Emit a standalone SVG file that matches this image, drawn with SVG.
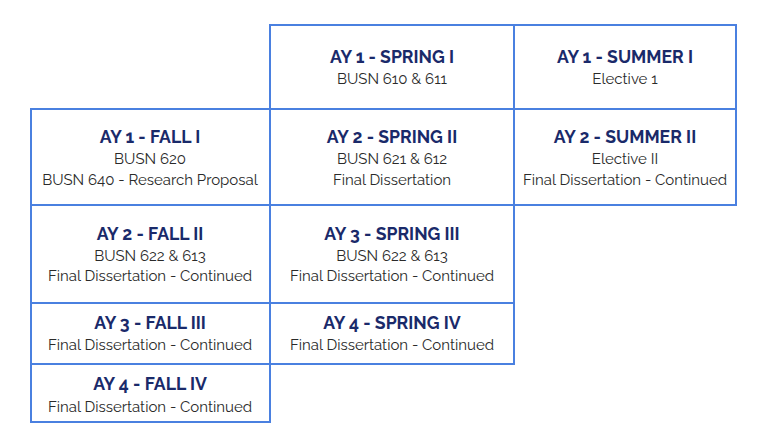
<svg xmlns="http://www.w3.org/2000/svg" width="768" height="448" viewBox="0 0 768 448">
<style>
.c{fill:#ffffff;stroke:#4a80e0;stroke-width:2}
.t{font-family:Raleway,Lato,"Open Sans",sans-serif;font-weight:700;font-size:17.6px;fill:#1a2a6a;text-anchor:middle}
.b{font-family:Raleway,Lato,"Open Sans",sans-serif;font-size:15px;fill:#2a2a2a;text-anchor:middle}
</style>
<rect width="768" height="448" fill="#ffffff"/>
<g id="spring1"><rect class="c" x="270" y="25" width="244" height="84"/><text class="t" x="392" y="63">AY 1 - SPRING I</text><text class="b" x="392" y="84">BUSN 610 &amp; 611</text></g>
<g id="summer1"><rect class="c" x="514" y="25" width="222" height="84"/><text class="t" x="625" y="63">AY 1 - SUMMER I</text><text class="b" x="625" y="84">Elective 1</text></g>
<g id="fall1"><rect class="c" x="31" y="109" width="239" height="96"/><text class="t" x="150" y="143">AY 1 - FALL I</text><text class="b" x="150" y="164">BUSN 620</text><text class="b" x="150" y="185">BUSN 640 - Research Proposal</text></g>
<g id="spring2"><rect class="c" x="270" y="109" width="244" height="96"/><text class="t" x="392" y="143">AY 2 - SPRING II</text><text class="b" x="392" y="164">BUSN 621 &amp; 612</text><text class="b" x="392" y="185">Final Dissertation</text></g>
<g id="summer2"><rect class="c" x="514" y="109" width="222" height="96"/><text class="t" x="625" y="143">AY 2 - SUMMER II</text><text class="b" x="625" y="164">Elective II</text><text class="b" x="625" y="185">Final Dissertation - Continued</text></g>
<g id="fall2"><rect class="c" x="31" y="205" width="239" height="98"/><text class="t" x="150" y="240">AY 2 - FALL II</text><text class="b" x="150" y="261">BUSN 622 &amp; 613</text><text class="b" x="150" y="281">Final Dissertation - Continued</text></g>
<g id="spring3"><rect class="c" x="270" y="205" width="244" height="98"/><text class="t" x="392" y="240">AY 3 - SPRING III</text><text class="b" x="392" y="261">BUSN 622 &amp; 613</text><text class="b" x="392" y="281">Final Dissertation - Continued</text></g>
<g id="fall3"><rect class="c" x="31" y="303" width="239" height="61"/><text class="t" x="150" y="329">AY 3 - FALL III</text><text class="b" x="150" y="350">Final Dissertation - Continued</text></g>
<g id="spring4"><rect class="c" x="270" y="303" width="244" height="61"/><text class="t" x="392" y="329">AY 4 - SPRING IV</text><text class="b" x="392" y="350">Final Dissertation - Continued</text></g>
<g id="fall4"><rect class="c" x="31" y="364" width="239" height="58"/><text class="t" x="150" y="390">AY 4 - FALL IV</text><text class="b" x="150" y="412">Final Dissertation - Continued</text></g>
<g id="connectors"></g>
</svg>
